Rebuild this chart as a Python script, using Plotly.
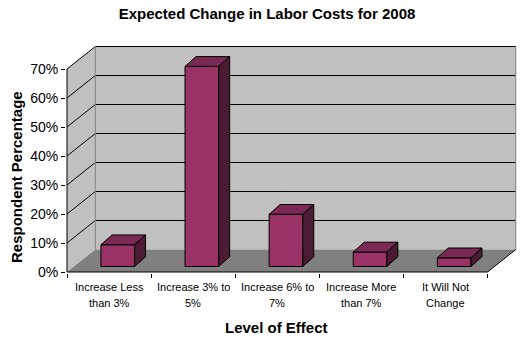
import plotly.graph_objects as go

# ---- data -------------------------------------------------------------
categories = [
    ("Increase Less", "than 3%"),
    ("Increase 3% to", "5%"),
    ("Increase 6% to", "7%"),
    ("Increase More", "than 7%"),
    ("It Will Not", "Change"),
]
values = [7.5, 69, 18, 5, 3]          # percent of respondents
y_ticks = [0, 10, 20, 30, 40, 50, 60, 70]
y_tick_labels = [f"{v}%" for v in y_ticks]

# ---- page geometry ------------------------------------------------------
W, H = 531, 339
ML, MR, MT, MB = 66, 11, 40, 66
PX_X = 84.1      # pixels per category
PX_Y = 2.9       # pixels per percent
X0_PX, Y0_PX = 67, 272
x_range = [-(X0_PX - ML) / PX_X, (W - MR - X0_PX) / PX_X]
y_range = [-(H - MB - Y0_PX) / PX_Y, (Y0_PX - MT) / PX_Y]

# oblique depth of the chart box (pixels -> data units)
DX, DY = 28.3 / PX_X, 22.5 / PX_Y
# bar placement inside the box
BAR_W = 0.4
BF_X, BF_Y = 8.7 / PX_X, 5.5 / PX_Y     # shift of bar front face
BD_X, BD_Y = 11.0 / PX_X, 9.8 / PX_Y    # bar depth
N = len(categories)
TOP = max(y_ticks)

WALL = "#c0c0c0"
FLOOR = "#808080"
FRONT = "#993366"
TOPC = "#7a2952"
SIDE = "#4d1a33"

fig = go.Figure()


def poly(xs, ys, fill, line_color=None, width=1):
    fig.add_trace(go.Scatter(
        x=list(xs) + [xs[0]], y=list(ys) + [ys[0]],
        mode="lines", fill="toself", fillcolor=fill,
        line=dict(color=line_color or fill, width=width if line_color else 0),
        hoverinfo="skip", showlegend=False,
    ))


def segs(pairs, color, width=1):
    xs, ys = [], []
    for (xa, ya), (xb, yb) in pairs:
        xs += [xa, xb, None]
        ys += [ya, yb, None]
    fig.add_trace(go.Scatter(x=xs, y=ys, mode="lines",
                             line=dict(color=color, width=width),
                             hoverinfo="skip", showlegend=False))


# walls and floor
poly([DX, N + DX, N + DX, DX], [DY, DY, TOP + DY, TOP + DY], WALL)
poly([0, DX, DX, 0], [0, DY, TOP + DY, TOP], WALL)
poly([0, N, N + DX, DX], [0, 0, DY, DY], FLOOR)

# gridlines on back wall and left wall
grid = []
for v in y_ticks[1:]:
    grid.append(((DX, v + DY), (N + DX, v + DY)))
    grid.append(((0, v), (DX, v + DY)))
segs(grid, "black")
segs([((DX, DY), (DX, TOP + DY)), ((N + DX, DY), (N + DX, TOP + DY))], FLOOR)
segs([((N, 0), (N + DX, DY))], "black")

# 3-D columns
for i, v in enumerate(values):
    x1 = i + 0.5 - BAR_W / 2 + BF_X
    x2 = x1 + BAR_W
    y1 = BF_Y
    y2 = v + BF_Y
    poly([x1, x2, x2, x1], [y1, y1, y2, y2], FRONT, "black")
    poly([x1, x2, x2 + BD_X, x1 + BD_X], [y2, y2, y2 + BD_Y, y2 + BD_Y], TOPC, "black")
    poly([x2, x2 + BD_X, x2 + BD_X, x2], [y1, y1 + BD_Y, y2 + BD_Y, y2], SIDE, "black")

# front axis lines
segs([((0, 0), (0, TOP)), ((0, 0), (N, 0))], "black")

FONT = "Arial, Liberation Sans, sans-serif"


def paper_x(px):
    return (px - ML) / (W - ML - MR)


def paper_y(py):
    return (H - MB - py) / (H - MT - MB)


annotations = []
for i, (l1, l2) in enumerate(categories):
    for line, py in ((l1, 287), (l2, 303)):
        annotations.append(dict(
            x=i + 0.5, xref="x", y=paper_y(py), yref="paper",
            text=line, showarrow=False, xanchor="center", yanchor="middle",
            font=dict(family=FONT, size=11, color="black"),
        ))
annotations.append(dict(
    x=paper_x(16), y=paper_y(177), xref="paper", yref="paper",
    text="<b>Respondent Percentage</b>", textangle=-90, showarrow=False,
    xanchor="center", yanchor="middle",
    font=dict(family=FONT, size=15, color="black"),
))
annotations.append(dict(
    x=paper_x(276), y=paper_y(327), xref="paper", yref="paper",
    text="<b>Level of Effect</b>", showarrow=False,
    xanchor="center", yanchor="middle",
    font=dict(family=FONT, size=15, color="black"),
))

fig.update_layout(
    width=W, height=H,
    margin=dict(l=ML, r=MR, t=MT, b=MB, pad=0),
    paper_bgcolor="white", plot_bgcolor="white",
    title=dict(text="<b>Expected Change in Labor Costs for 2008</b>",
               x=267 / W, xanchor="center", y=1 - 14 / H, yanchor="middle",
               yref="container",
               font=dict(family=FONT, size=15, color="black")),
    xaxis=dict(range=x_range, showgrid=False, zeroline=False, showline=False,
               tickmode="array", tickvals=list(range(N + 1)),
               ticks="outside", ticklen=4, tickcolor="black",
               showticklabels=False, fixedrange=True),
    yaxis=dict(range=y_range, showgrid=False, zeroline=False, showline=False,
               tickmode="array", tickvals=y_ticks, ticktext=y_tick_labels,
               ticks="outside", ticklen=4, tickcolor="black",
               tickfont=dict(family=FONT, size=14, color="black"),
               fixedrange=True),
    annotations=annotations,
    showlegend=False,
)

fig.write_html("out.html")
